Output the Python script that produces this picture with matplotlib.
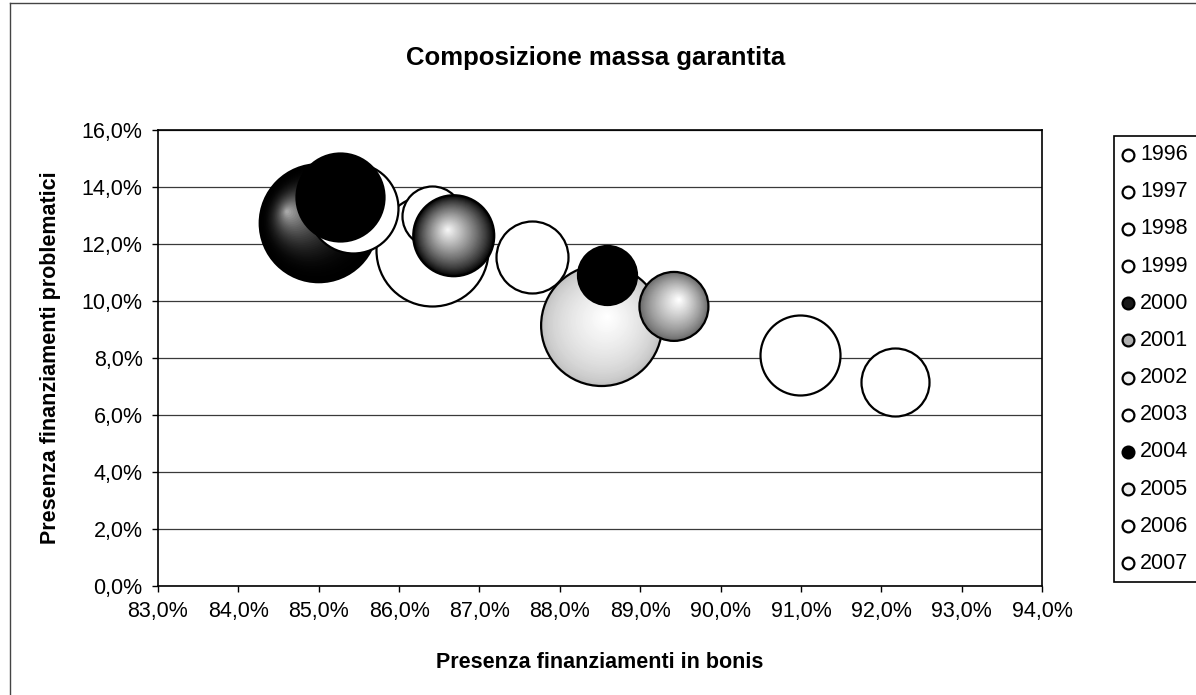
import numpy as np
import matplotlib
matplotlib.use("Agg")
import matplotlib.pyplot as plt
from matplotlib.lines import Line2D
from matplotlib.patches import Rectangle
import matplotlib.transforms as mtransforms
from matplotlib.colors import to_rgb

# ---- data -------------------------------------------------------------
years = ["1996", "1997", "1998", "1999", "2000", "2001",
         "2002", "2003", "2004", "2005", "2006", "2007"]
bonis = [88.52, 86.41, 85.00, 86.41, 86.68, 89.42,
         85.43, 87.65, 85.27, 88.59, 90.99, 92.17]          # % in bonis
problematici = [9.14, 11.79, 12.73, 13.00, 12.29, 9.81,
                13.25, 11.54, 13.64, 10.91, 8.09, 7.15]     # % problematici
massa = [100.0, 85.7, 95.1, 24.6, 44.8, 32.5,
         55.3, 35.4, 52.9, 23.8, 43.7, 31.6]                # bubble size
x_ticks = [83, 84, 85, 86, 87, 88, 89, 90, 91, 92, 93, 94]
y_ticks = [0, 2, 4, 6, 8, 10, 12, 14, 16]

# ---- styles -----------------------------------------------------------
fill_style = ["light", "white", "dark", "white", "dark2", "gray",
              "white", "white", "black", "black", "white", "white"]
legend_face = ["white", "white", "white", "white", "#1a1a1a", "#b0b0b0",
               "#eeeeee", "white", "black", "#eeeeee", "white", "white"]
gradients = {
    # rim colour, centre colour, highlight direction, gamma
    "dark":  ("#000000", "#a8a8a8", (-0.55, 0.20), 2.2),
    "dark2": ("#000000", "#f4f4f4", (-0.15, 0.15), 0.8),
    "gray":  ("#666666", "#ffffff", (0.15, 0.20), 0.8),
    "light": ("#bdbdbd", "#ffffff", (0.10, 0.15), 0.6),
}

W, H, DPI = 1196, 695, 100
fig = plt.figure(figsize=(W / DPI, H / DPI), dpi=DPI)
fig.patch.set_facecolor("white")
FONT = ["Liberation Sans", "DejaVu Sans"]
plt.rcParams["font.family"] = FONT

L, R, T, B = 158, 1042, 130, 586
ax = fig.add_axes([L / W, 1 - B / H, (R - L) / W, (B - T) / H])
ax.set_xlim(x_ticks[0], x_ticks[-1])
ax.set_ylim(y_ticks[0], y_ticks[-1])
ax.set_xticks(x_ticks)
ax.set_yticks(y_ticks)
fmt = matplotlib.ticker.FuncFormatter(lambda v, _: f"{v:.1f}%".replace(".", ","))
ax.xaxis.set_major_formatter(fmt)
ax.yaxis.set_major_formatter(fmt)
ax.tick_params(direction="out", length=4, width=1, labelsize=15.5, pad=7,
               colors="black")
ax.yaxis.grid(True, color="#3a3a3a", linewidth=0.9)
ax.set_axisbelow(True)
for sp in ax.spines.values():
    sp.set_color("black")
    sp.set_linewidth(1.2)

ax.set_xlabel("Presenza finanziamenti in bonis", fontsize=15.5,
              fontweight="bold")
ax.set_ylabel("Presenza finanziamenti problematici", fontsize=15.5,
              fontweight="bold")
ax.xaxis.set_label_coords(0.5, (B - 652) / (B - T))
ax.yaxis.set_label_coords((61 - L) / (R - L), 0.5)

K = 75.9  # points^2 per size unit
EDGE_LW = 1.6

for i, (x, y, m, st) in enumerate(zip(bonis, problematici, massa, fill_style)):
    s = m * K
    z = 10 + i
    if st in ("white", "black"):
        ax.scatter([x], [y], s=s, facecolor=st, edgecolor="black",
                   linewidth=EDGE_LW, zorder=z)
        continue
    rim, cen, (dx, dy), gam = gradients[st]
    rim, cen = np.array(to_rgb(rim)), np.array(to_rgb(cen))
    r_pt = np.sqrt(s) / 2
    n = 40
    for k in range(n):
        t = k / (n - 1)
        f = 1 - 0.97 * t
        col = rim + (cen - rim) * (t ** gam)
        tr = mtransforms.offset_copy(ax.transData, fig=fig,
                                     x=(1 - f) * r_pt * dx,
                                     y=(1 - f) * r_pt * dy, units="points")
        ax.scatter([x], [y], s=s * f * f, facecolor=col, edgecolor="none",
                   linewidth=0, zorder=z + 0.01 * k, transform=tr)
    ax.scatter([x], [y], s=s, facecolor="none", edgecolor="black",
               linewidth=EDGE_LW, zorder=z + 0.9)

# title
fig.text(596 / W, 1 - 58 / H, "Composizione massa garantita", ha="center",
         va="center", fontsize=18.5, fontweight="bold")

# chart-area border (top and left visible)
fig.add_artist(Line2D([10 / W, 1], [1 - 3 / H, 1 - 3 / H], color="#444444",
                      linewidth=1, transform=fig.transFigure))
fig.add_artist(Line2D([10 / W, 10 / W], [1 - 3 / H, 0], color="#444444",
                      linewidth=1, transform=fig.transFigure))

# legend (manual)
LEG_L, LEG_T, LEG_B = 1114, 136, 582
fig.add_artist(Rectangle((LEG_L / W, 1 - LEG_B / H), (W + 20 - LEG_L) / W,
                         (LEG_B - LEG_T) / H, transform=fig.transFigure,
                         facecolor="white", edgecolor="black", linewidth=1.2))
step = (LEG_B - LEG_T) / len(years)
for i, (yr, fc) in enumerate(zip(years, legend_face)):
    yy = 1 - (LEG_T + step * (i + 0.5)) / H
    fig.add_artist(Line2D([1128 / W], [yy], marker="o", markersize=8.5,
                          markerfacecolor=fc, markeredgecolor="black",
                          markeredgewidth=1.6, linestyle="none",
                          transform=fig.transFigure))
    fig.text(1140 / W, yy, yr, ha="left", va="center", fontsize=15.5)

fig.savefig("out.png", dpi=DPI)
